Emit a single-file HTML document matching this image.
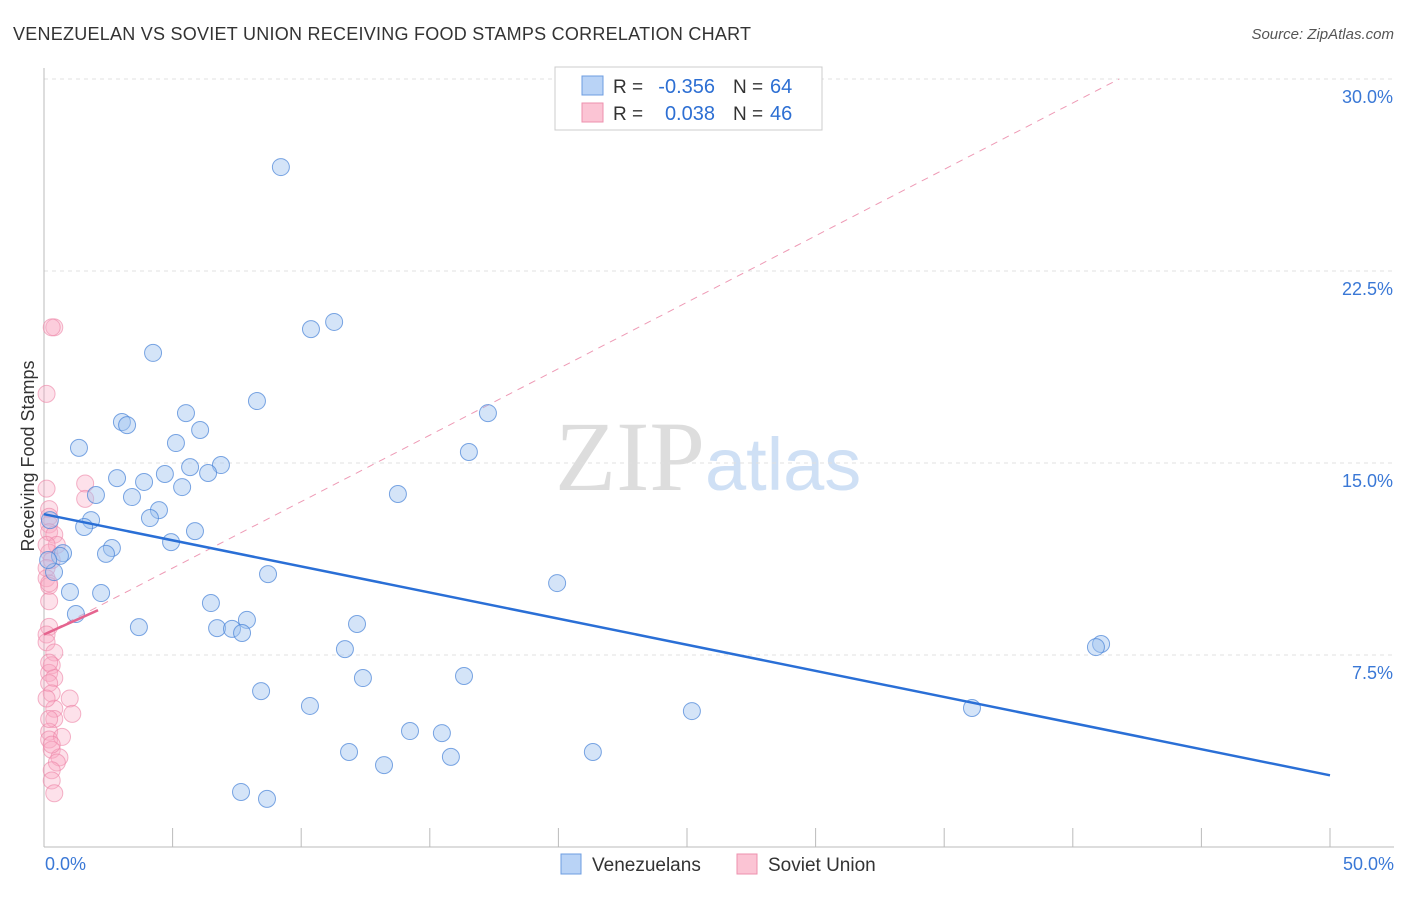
<!DOCTYPE html>
<html><head><meta charset="utf-8"><style>
body{margin:0;background:#fff;font-family:"Liberation Sans",sans-serif}
</style></head><body>
<svg id="chart" width="1406" height="892" xmlns="http://www.w3.org/2000/svg" font-family="Liberation Sans, sans-serif">
<text x="13" y="40" font-size="18" fill="#333" textLength="738">VENEZUELAN VS SOVIET UNION RECEIVING FOOD STAMPS CORRELATION CHART</text>
<text x="1394" y="39" font-size="15" fill="#555" font-style="italic" text-anchor="end">Source: ZipAtlas.com</text>
<text x="555" y="490" font-size="100"><tspan fill="#ddd" font-family="Liberation Serif, serif">ZIP</tspan><tspan fill="#cfe0f5" font-size="74">atlas</tspan></text>
<g id="grid"></g><g id="axes"></g><g id="marks"></g>
<text transform="translate(34,456) rotate(-90)" font-size="18" fill="#333" text-anchor="middle">Receiving Food Stamps</text>
<g>
<rect x="555" y="67" width="267" height="63" fill="#fff" stroke="#ccc"/>
<rect x="582" y="76" width="21" height="19" fill="#b9d3f6" stroke="#6d9de0"/>
<rect x="582" y="103" width="21" height="19" fill="#fbc4d4" stroke="#ee90ae"/>
<text x="613" y="93" font-size="19" fill="#333">R =</text>
<text x="715" y="93" font-size="20" fill="#2d6fd3" text-anchor="end">-0.356</text>
<text x="733" y="93" font-size="19" fill="#333">N =</text>
<text x="770" y="93" font-size="20" fill="#2d6fd3">64</text>
<text x="613" y="120" font-size="19" fill="#333">R =</text>
<text x="715" y="120" font-size="20" fill="#2d6fd3" text-anchor="end">0.038</text>
<text x="733" y="120" font-size="19" fill="#333">N =</text>
<text x="770" y="120" font-size="20" fill="#2d6fd3">46</text>
</g>
<g>
<rect x="561" y="854" width="20" height="20" fill="#b9d3f6" stroke="#6d9de0"/>
<text x="592" y="871" font-size="19" fill="#333">Venezuelans</text>
<rect x="737" y="854" width="20" height="20" fill="#fbc4d4" stroke="#ee90ae"/>
<text x="768" y="871" font-size="19" fill="#333">Soviet Union</text>
</g>
</svg>
<script>
const yTicks=[7.5,15,22.5,30];
const yTickLabels=["7.5%","15.0%","22.5%","30.0%"];
const xTickLabels=["0.0%","50.0%"];
const venX=[9.21,11.28,10.38,4.24,8.28,17.26,5.52,3.03,3.23,6.07,5.13,1.36,16.52,6.88,5.68,4.70,6.38,2.84,3.89,5.37,2.02,3.42,13.76,4.47,4.12,1.83,1.56,5.87,4.94,2.64,2.41,0.74,0.62,0.39,8.71,19.95,1.01,2.22,6.49,1.24,7.89,3.69,6.73,7.31,7.70,12.17,41.10,40.90,11.70,16.33,12.40,8.44,10.34,25.19,36.08,14.23,15.47,11.86,21.34,15.82,13.22,7.66,8.67,0.23,0.16];
const venY=[26.56,20.51,20.23,19.30,17.42,16.95,16.95,16.60,16.48,16.29,15.78,15.59,15.43,14.92,14.84,14.57,14.61,14.41,14.26,14.06,13.75,13.67,13.79,13.16,12.85,12.77,12.50,12.34,11.91,11.68,11.45,11.48,11.37,10.74,10.66,10.31,9.96,9.92,9.53,9.10,8.87,8.59,8.55,8.52,8.36,8.71,7.93,7.81,7.73,6.68,6.60,6.09,5.51,5.31,5.43,4.53,4.45,3.71,3.71,3.52,3.20,2.15,1.88,12.77,11.21];
const sovX=[0.4,0.3,0.1,0.1,1.6,1.6,0.2,0.2,0.2,0.2,0.4,0.5,0.2,0.3,0.1,0.1,0.2,0.2,0.1,0.1,0.4,0.3,0.2,0.4,0.2,0.3,1.0,0.4,1.1,0.4,0.2,0.2,0.7,0.3,0.6,0.5,0.3,0.3,0.4,0.2,0.1,0.2,0.1,0.2,0.3,0.2];
const sovY=[20.3,20.3,17.7,14.0,14.2,13.6,13.2,12.9,12.6,12.3,12.2,11.8,11.5,11.2,10.9,10.5,10.2,8.6,8.3,8.0,7.6,7.1,6.8,6.6,6.4,6.0,5.8,5.4,5.2,5.0,4.5,4.2,4.3,3.8,3.5,3.3,3.0,2.6,2.1,10.3,11.8,9.6,5.8,5.0,4.0,7.2];
const venTrend=[[0,13.0],[50,2.8]];
const sovTrend=[[0,8.3],[2.1,9.25]];
const sovDash=[[0,8.3],[41.8,30]];
const X=v=>44+v/50*1286, Y=v=>847-v/7.5*192;
const NS="http://www.w3.org/2000/svg";
function mk(t,a,p){const e=document.createElementNS(NS,t);for(const k in a)e.setAttribute(k,a[k]);p.appendChild(e);return e;}
const grid=document.getElementById('grid'),axes=document.getElementById('axes'),marks=document.getElementById('marks');
yTicks.forEach((t,i)=>{
 const l=mk('line',{x1:44,x2:1394,y1:Y(t),y2:Y(t),stroke:'#e0e0e0','stroke-dasharray':'4,4'},grid);
 
 
 const tx=mk('text',{x:1393,y:Y(t)+24,'font-size':18,fill:'#3a78d6','text-anchor':'end'},axes);
 tx.textContent=yTickLabels[i];
 
 
});
const ax=mk('line',{x1:44,x2:44,y1:68,y2:847,stroke:'#bbb'},axes);


const bx=mk('line',{x1:44,x2:1394,y1:847,y2:847,stroke:'#bbb'},axes);


for(let i=1;i<=10;i++){const t=mk('line',{x1:X(i*5),x2:X(i*5),y1:828,y2:847,stroke:'#bbb'},axes);
 
 }
[[0,'start',45],[50,'end',1394]].forEach((d,i)=>{const t=mk('text',{x:d[2],y:870,'font-size':18,fill:'#3a78d6','text-anchor':d[1]},axes);t.textContent=xTickLabels[i];
 
 });
const dl=mk('line',{x1:X(sovDash[0][0]),y1:Y(sovDash[0][1]),x2:X(sovDash[1][0]),y2:Y(sovDash[1][1]),stroke:'#ee9ab5','stroke-dasharray':'7,6','stroke-width':1},marks);


sovX.forEach((x,i)=>{const c=mk('circle',{cx:X(x),cy:Y(sovY[i]),r:8.5,fill:'rgba(248,170,195,0.35)',stroke:'rgba(236,130,165,0.6)'},marks);
 
 });
venX.forEach((x,i)=>{const c=mk('circle',{cx:X(x),cy:Y(venY[i]),r:8.5,fill:'rgba(160,195,240,0.45)',stroke:'rgba(70,130,215,0.7)'},marks);
 
 });
const vl=mk('line',{x1:X(venTrend[0][0]),y1:Y(venTrend[0][1]),x2:X(venTrend[1][0]),y2:Y(venTrend[1][1]),stroke:'#2a6fd6','stroke-width':2.5},marks);


const sl=mk('line',{x1:X(sovTrend[0][0]),y1:Y(sovTrend[0][1]),x2:X(sovTrend[1][0]),y2:Y(sovTrend[1][1]),stroke:'#e5648f','stroke-width':2.5},marks);


</script>
</body></html>
